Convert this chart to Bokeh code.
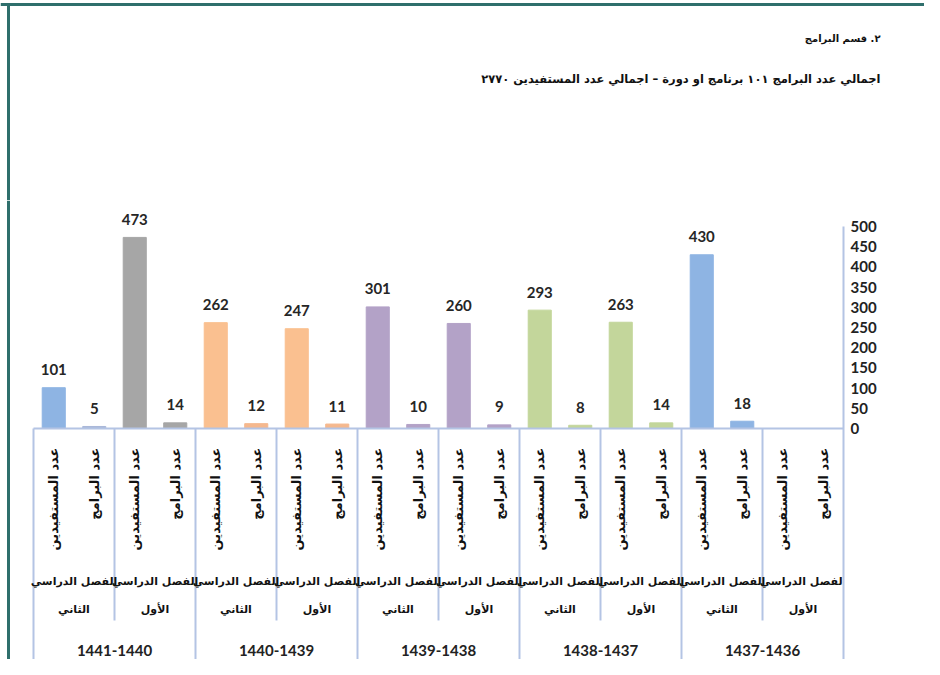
import numpy as np
from bokeh.plotting import figure
from bokeh.layouts import column
from bokeh.models import Range1d, FixedTicker, ColumnDataSource
from bokeh.core.properties import value
from bokeh.embed import file_html
from bokeh.resources import INLINE

# ---- data (left to right as in the picture) ----
years = ["1441-1440", "1440-1439", "1439-1438", "1438-1437", "1437-1436"]
semester_line1 = ["الفصل الدراسي", "الفصل الدراسي"]
semester_line2 = ["الثاني", "الأول"]
metrics = ["عدد المستفيدين", "عدد البرامج"]
values = [101, 5, 473, 14, 262, 12, 247, 11, 301, 10, 260, 9, 293, 8, 263, 14, 430, 18, None, None]
bar_colors = ["#8EB4E3", "#A9B8D8", "#A6A6A6", "#A6A6A6", "#FAC090", "#F5B88E",
              "#FAC090", "#F5B88E", "#B3A2C7", "#B3A2C7", "#B3A2C7", "#B3A2C7",
              "#C3D69B", "#C3D69B", "#C3D69B", "#C3D69B", "#8EB4E3", "#8EB4E3",
              "#8EB4E3", "#8EB4E3"]
y_ticks = [0, 50, 100, 150, 200, 250, 300, 350, 400, 450, 500]
title_text = "٢. قسم البرامج"
subtitle_text = "اجمالي عدد البرامج ١٠١ برنامج او دورة – اجمالي عدد المستفيدين ٢٧٧٠"

AR_FONT = "DejaVu Sans"
NUM_FONT = "Lato"
LINE_COL = "#B4C4E4"
FRAME_COL = "#2F6F6C"

W = 924
TOP_H = 200
MAIN_H = 459

n_sem = len(semester_line1)
n_met = len(metrics)
n_cat = len(years) * n_sem * n_met

# ---------- heading strip (pixel-like coordinates) ----------
head = figure(width=W, height=TOP_H, output_backend="svg", toolbar_location=None,
              x_range=Range1d(0, W), y_range=Range1d(TOP_H, 0),
              x_axis_location=None, y_axis_location=None,
              min_border_left=0, min_border_right=0, min_border_top=0,
              min_border_bottom=0, title=None)
head.frame_align = False
head.grid.visible = False
head.outline_line_color = None
head.text(x=[880], y=[38], text=[title_text], text_align="right", text_baseline="middle",
          text_font=value(AR_FONT), text_font_size="10px", text_font_style="bold",
          text_color="#111111")
head.text(x=[880], y=[78], text=[subtitle_text], text_align="right", text_baseline="middle",
          text_font=value(AR_FONT), text_font_size="11.5px", text_font_style="bold",
          text_color="#111111")
# teal page frame (top and left edges)
head.segment(x0=[0, 8], y0=[4, 4], x1=[W, 8], y1=[4, TOP_H], line_color=FRAME_COL,
             line_width=3)

# ---------- chart ----------
frame_right = 843          # px, where the value axis sits
cat_left = 33              # px, left edge of first category
cat_px = (frame_right - cat_left) / n_cat
x_start = -cat_left / cat_px
base_px = 228              # px from top of chart figure to value 0
px_per_unit = 0.404
y_high = base_px / px_per_unit
y_low = -(MAIN_H - base_px) / px_per_unit


def ypx(px):
    """chart-figure pixel row -> value units"""
    return (base_px - px) / px_per_unit


p = figure(width=W, height=MAIN_H, output_backend="svg", toolbar_location=None,
           x_range=Range1d(x_start, n_cat), y_range=Range1d(y_low, y_high),
           x_axis_location=None, y_axis_location="right",
           min_border_left=0, min_border_right=W - frame_right, min_border_top=0,
           min_border_bottom=0, title=None)
p.frame_align = False
p.grid.visible = False
p.outline_line_color = None
p.background_fill_color = "white"
p.border_fill_color = "white"

# y axis
ax = p.yaxis[0]
ax.ticker = FixedTicker(ticks=y_ticks)
ax.bounds = (y_low, y_ticks[-1])
ax.axis_line_color = LINE_COL
ax.axis_line_width = 2
ax.major_tick_line_color = None
ax.minor_tick_line_color = None
ax.major_label_standoff = 1
ax.major_label_text_font = NUM_FONT
ax.major_label_text_font_size = "15px"
ax.major_label_text_font_style = "bold"
ax.major_label_text_color = "#222222"

# bars
xc = np.arange(n_cat) + 0.5
vals = np.array([np.nan if v is None else v for v in values], dtype=float)
src = ColumnDataSource(dict(x=xc, top=vals, color=bar_colors,
                            label=["" if v is None else str(v) for v in values],
                            ly=np.nan_to_num(vals)))
p.vbar(x="x", top="top", bottom=0, width=0.57, color="color", source=src)
p.text(x="x", y="ly", text="label", source=src, text_align="center",
       text_baseline="middle", y_offset=-18, text_font=value(NUM_FONT),
       text_font_size="15px", text_font_style="bold", text_color="#262626")

# baseline + separators
p.segment(x0=[0], y0=[0], x1=[n_cat], y1=[0], line_color=LINE_COL, line_width=2)
year_b = np.arange(0, n_cat, n_sem * n_met)
sem_b = year_b + n_met
p.segment(x0=year_b, y0=0, x1=year_b, y1=y_low, line_color=LINE_COL, line_width=2)
p.segment(x0=sem_b, y0=0, x1=sem_b, y1=ypx(420), line_color=LINE_COL, line_width=2)

# level 1 labels (vertical)
met_labels = [metrics[i % n_met] for i in range(n_cat)]
p.text(x=xc, y=ypx(247), text=met_labels, angle=np.pi / 2, text_align="right",
       text_baseline="middle", text_font=value(AR_FONT), text_font_size="13px",
       text_font_style="bold", text_color="#111111")

# level 2 labels (semesters)
n_semg = len(years) * n_sem
sem_c = np.arange(n_semg) * n_met + n_met / 2
p.text(x=sem_c, y=ypx(381), text=[semester_line1[i % n_sem] for i in range(n_semg)],
       text_align="center", text_baseline="middle", text_font=value(AR_FONT),
       text_font_size="11px", text_font_style="bold", text_color="#111111")
p.text(x=sem_c, y=ypx(409), text=[semester_line2[i % n_sem] for i in range(n_semg)],
       text_align="center", text_baseline="middle", text_font=value(AR_FONT),
       text_font_size="11px", text_font_style="bold", text_color="#111111")

# level 3 labels (years)
year_c = np.arange(len(years)) * n_sem * n_met + n_sem * n_met / 2
p.text(x=year_c, y=ypx(450), text=years, text_align="center", text_baseline="middle",
       text_font=value(NUM_FONT), text_font_size="15px", text_font_style="bold",
       text_color="#222222")

# teal page frame (left edge)
x_frame = x_start + 8 / cat_px
p.segment(x0=[x_frame], y0=[y_high], x1=[x_frame], y1=[y_low], line_color=FRAME_COL,
          line_width=3)

layout = column(head, p, spacing=0)
open("out.html", "w").write(file_html(layout, INLINE))
